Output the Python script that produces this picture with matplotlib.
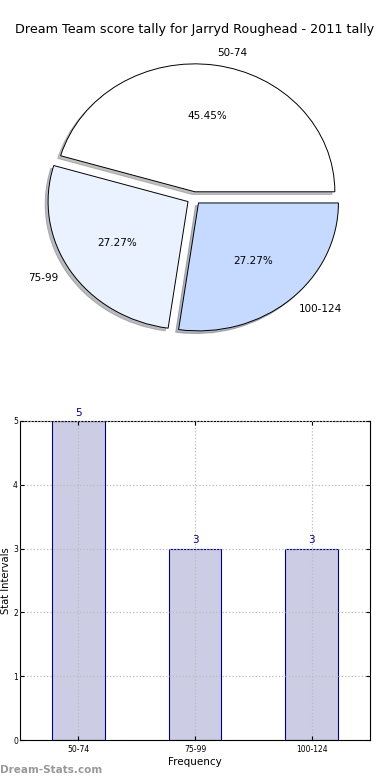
import matplotlib

matplotlib.use("Agg")
import matplotlib.pyplot as plt

title = "Dream Team score tally for Jarryd Roughead - 2011 tally"
categories = ["50-74", "75-99", "100-124"]
counts = [5, 3, 3]
pie_colors = ["#ffffff", "#eaf1ff", "#c6d9ff"]

fig = plt.figure(figsize=(3.9, 7.8), dpi=100)
fig.text(0.5, 0.962, title, ha="center", va="center", fontsize=9.2)

# pie (elliptical, like old matplotlib without equal aspect)
ax1 = fig.add_axes([0.0487, 0.541, 0.897, 0.410])
wedges, texts, autotexts = ax1.pie(
    counts,
    labels=categories,
    colors=pie_colors,
    explode=[0.05] * len(counts),
    autopct="%1.2f%%",
    startangle=0,
    shadow={"ox": -0.015, "oy": -0.015, "shade": 0.5},
    wedgeprops={"edgecolor": "black", "linewidth": 0.7},
    textprops={"fontsize": 7.5},
)
ax1.set_aspect("auto")
ax1.set_xlim(-1.25, 1.25)
ax1.set_ylim(-1.25, 1.25)
ax1.axis("off")

# bars
ax2 = fig.add_axes([20 / 390, 40 / 780, 350 / 390, 319 / 780])
xs = list(range(len(categories)))
ax2.bar(xs, counts, width=0.45, color="#ccccE5", edgecolor="#000080", linewidth=0.8, zorder=2)
for x, c in zip(xs, counts):
    ax2.text(x, c + 0.05, str(c), ha="center", va="bottom", color="#000080", fontsize=7.5)
ax2.set_xlim(-0.5, 2.5)
ax2.set_ylim(0, 5)
ax2.set_xticks(xs)
ax2.set_xticklabels(categories)
ax2.set_yticks(range(6))
ax2.tick_params(direction="in", labelsize=5.5, top=True, right=True, length=3)
ax2.tick_params(axis="y", pad=1.5)
ax2.grid(True, linestyle=":", color="#bbbbbb", linewidth=0.9, zorder=0)
ax2.set_axisbelow(False)
ax2.set_xlabel("Frequency", fontsize=7.5, labelpad=2)
ax2.set_ylabel("Stat Intervals", fontsize=7.2)
ax2.yaxis.set_label_coords(-9 / 350, 0.5)

fig.text(0.0, 0.013, "Dream-Stats.com", ha="left", va="center", fontsize=7.5, color="#999999", fontweight="bold")

fig.savefig("out.png", dpi=100)
